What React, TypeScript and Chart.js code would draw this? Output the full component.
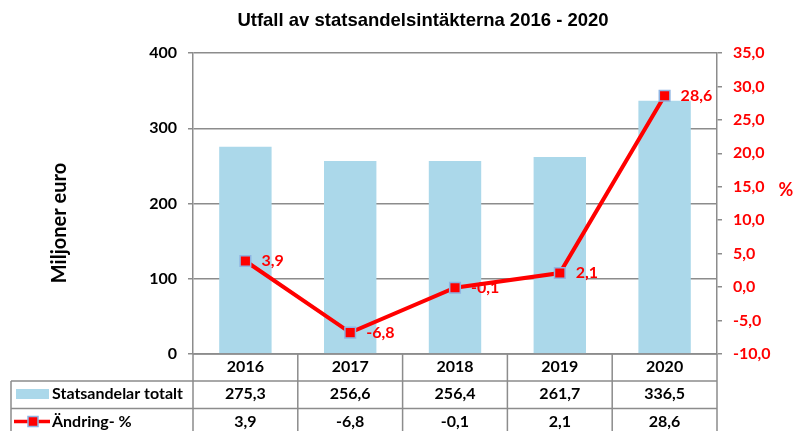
import React, { useEffect, useRef } from 'react';
import { Chart, registerables } from 'chart.js';
Chart.register(...registerables);

const title = 'Utfall av statsandelsintäkterna 2016 - 2020';
const categories = ['2016', '2017', '2018', '2019', '2020'];
const totals = [275.3, 256.6, 256.4, 261.7, 336.5];
const changePct = [3.9, -6.8, -0.1, 2.1, 28.6];
const seriesNames = ['Statsandelar totalt', 'Ändring- %'];
const leftTitle = 'Miljoner euro';
const rightTitle = '%';

const FONT = 'Lato, "Open Sans", sans-serif';
const BAR = '#ABD8EA';
const RED = '#FF0000';
const MARK_BORDER = '#8EB4E3';
const GRID = '#8C8C8C';

const fmt = (v: number) => v.toFixed(1).replace('.', ',');

const overlay = {
  id: 'overlay',
  afterDraw(chart: any) {
    const { ctx, chartArea, scales } = chart;
    const xs = scales.x;
    const top = chartArea.bottom;
    const left = chartArea.left;
    const right = chartArea.right;
    const catW = (right - left) / categories.length;
    const row1 = top + 27;
    const row2 = top + 54.5;
    const bottom = chart.height + 5;
    const tableLeft = 11;
    ctx.save();
    // title
    ctx.fillStyle = '#000';
    ctx.font = 'bold 18.5px "Liberation Sans", Arial, sans-serif';
    ctx.textAlign = 'center';
    ctx.textBaseline = 'middle';
    ctx.fillText(title, 423, 21);
    // left axis title
    ctx.save();
    ctx.translate(60, 223);
    ctx.rotate(-Math.PI / 2);
    ctx.font = `bold 20px ${FONT}`;
    ctx.fillText(leftTitle, 0, 0);
    ctx.restore();
    // right axis title
    ctx.fillStyle = RED;
    ctx.font = `bold 18px ${FONT}`;
    ctx.fillText(rightTitle, 786, 190);

    // data labels
    const meta = chart.getDatasetMeta(1);
    ctx.font = `bold 16px ${FONT}`;
    ctx.textAlign = 'left';
    meta.data.forEach((pt: any, i: number) => {
      ctx.fillText(fmt(changePct[i]), pt.x + 16, pt.y);
    });

    // table lines
    ctx.strokeStyle = GRID;
    ctx.lineWidth = 1.5;
    ctx.beginPath();
    ctx.moveTo(left, top); ctx.lineTo(right, top);
    ctx.moveTo(tableLeft, row1); ctx.lineTo(right, row1);
    ctx.moveTo(tableLeft, row2); ctx.lineTo(right, row2);
    ctx.moveTo(tableLeft, row1); ctx.lineTo(tableLeft, bottom);
    for (let i = 0; i <= categories.length; i++) {
      const xx = i < categories.length ? xs.getPixelForValue(i) - catW / 2 : xs.getPixelForValue(i - 1) + catW / 2;
      ctx.moveTo(xx, top); ctx.lineTo(xx, bottom);
    }
    ctx.stroke();

    // table text
    ctx.fillStyle = '#000';
    ctx.font = `bold 16px ${FONT}`;
    ctx.textAlign = 'center';
    categories.forEach((c, i) => {
      const cx = xs.getPixelForValue(i);
      ctx.fillText(c, cx, top + 13);
      ctx.fillText(fmt(totals[i]), cx, row1 + 13);
      ctx.fillText(fmt(changePct[i]), cx, row2 + 13);
    });
    ctx.textAlign = 'left';
    ctx.fillText(seriesNames[0], 52, row1 + 13);
    ctx.fillText(seriesNames[1], 52, row2 + 13);
    // legend keys
    ctx.fillStyle = BAR;
    ctx.fillRect(16, row1 + 8, 33, 10);
    ctx.strokeStyle = RED;
    ctx.lineWidth = 3.5;
    ctx.beginPath();
    ctx.moveTo(14, row2 + 13); ctx.lineTo(50, row2 + 13);
    ctx.stroke();
    ctx.fillStyle = RED;
    ctx.fillRect(28, row2 + 8, 10, 10);
    ctx.strokeStyle = MARK_BORDER;
    ctx.lineWidth = 1.5;
    ctx.strokeRect(28, row2 + 8, 10, 10);
    ctx.restore();
  },
};

export default function App() {
  const ref = useRef<HTMLCanvasElement>(null);
  useEffect(() => {
    document.body.style.margin = '0';
    const chart = new Chart(ref.current as HTMLCanvasElement, {
      type: 'bar',
      data: {
        labels: categories,
        datasets: [
          {
            type: 'bar',
            label: seriesNames[0],
            data: totals,
            backgroundColor: BAR,
            borderWidth: 0,
            barPercentage: 0.5,
            categoryPercentage: 1,
            yAxisID: 'y',
            order: 1,
          },
          {
            type: 'line',
            label: seriesNames[1],
            data: changePct,
            borderColor: RED,
            borderWidth: 4,
            pointStyle: 'rect',
            pointRadius: 7.5,
            pointBackgroundColor: RED,
            pointBorderColor: MARK_BORDER,
            pointBorderWidth: 1.5,
            yAxisID: 'y1',
            order: 0,
          } as any,
        ],
      },
      options: {
        responsive: false,
        animation: false,
        devicePixelRatio: 1,
        layout: { padding: { top: 53, bottom: 77, left: 0, right: 0 } },
        plugins: { legend: { display: false }, tooltip: { enabled: false }, title: { display: false } },
        scales: {
          x: { display: false, offset: true },
          y: {
            position: 'left',
            min: 0,
            max: 400,
            ticks: { stepSize: 100, color: '#000', font: { family: FONT, size: 16, weight: 'bold' }, padding: 11 },
            grid: { color: GRID, lineWidth: 1.5, tickLength: 5, drawTicks: true },
            border: { display: true, color: GRID, width: 1.5 },
            afterFit: (s: any) => { s.width = 193; },
          },
          y1: {
            position: 'right',
            min: -10,
            max: 35,
            ticks: { stepSize: 5, color: RED, font: { family: FONT, size: 16, weight: 'bold' }, padding: 11, callback: (v: any) => fmt(Number(v)) },
            grid: { drawOnChartArea: false, color: GRID, lineWidth: 1.5, tickLength: 5 },
            border: { display: true, color: GRID, width: 1.5 },
            afterFit: (s: any) => { s.width = 78; },
          },
        },
      } as any,
      plugins: [overlay],
    });
    return () => chart.destroy();
  }, []);
  return <canvas ref={ref} width={795} height={431} style={{ display: 'block' }} />;
}
